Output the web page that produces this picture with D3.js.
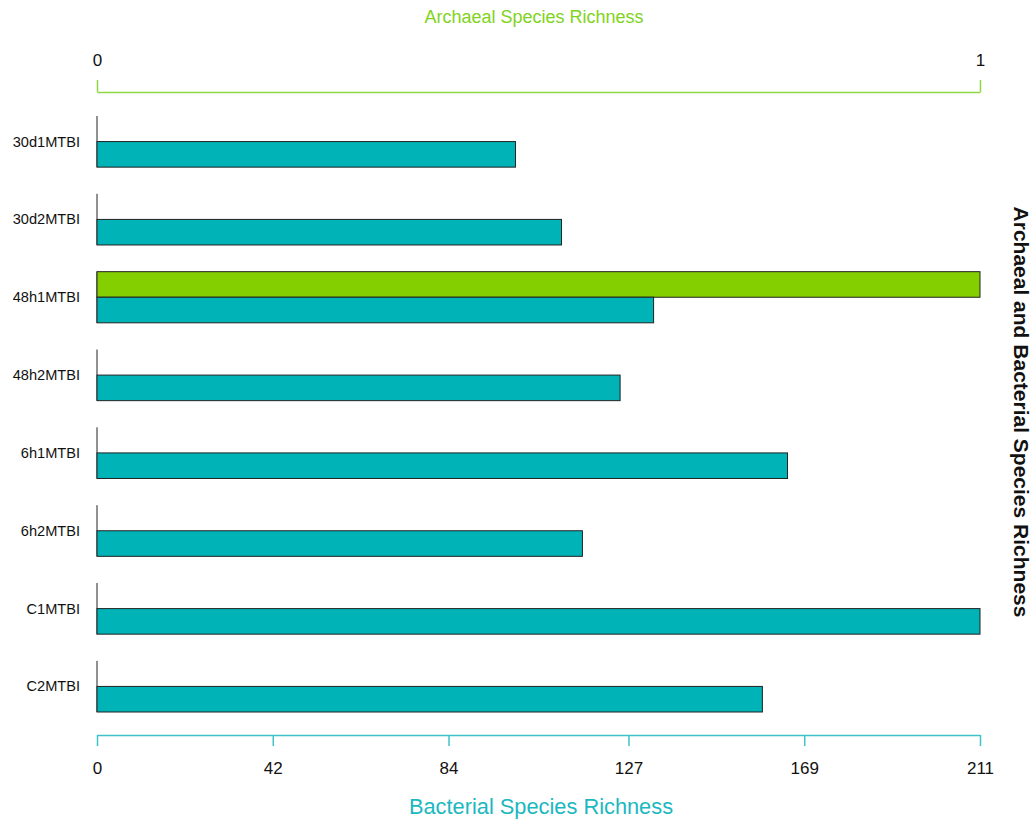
<!DOCTYPE html>
<html>
<head>
<meta charset="utf-8">
<script src="https://cdn.jsdelivr.net/npm/d3@7"></script>
<style>
  html, body { margin: 0; padding: 0; background: #fff; }
  svg { display: block; font-family: "Liberation Sans", Arial, sans-serif; }
</style>
</head>
<body>
<svg id="chart" width="1035" height="821"></svg>
<script>
// Samples, top to bottom
const categories = ["30d1MTBI", "30d2MTBI", "48h1MTBI", "48h2MTBI", "6h1MTBI", "6h2MTBI", "C1MTBI", "C2MTBI"];
// Species richness per sample
const bacterialValues = [100, 111, 133, 125, 165, 116, 211, 159];
const archaealValues = [0, 0, 1, 0, 0, 0, 0, 0];
// Axis ticks
const bacterialTicks = [0, 42, 84, 127, 169, 211];
const archaealTicks = [0, 1];

const teal = "#00b3b7";
const green = "#84cf00";
const tealAxis = "#3cc4ca";
const greenAxis = "#8fd640";

const svg = d3.select("#chart");
const left = 97, right = 980;

const xBac = d3.scaleLinear().domain([0, 211]).range([left, right]);
const xArc = d3.scaleLinear().domain([0, 1]).range([left, right]);
const y = d3.scaleBand().domain(categories).range([116, 712]).paddingInner(0.343).paddingOuter(0);
const half = y.bandwidth() / 2;

// Top (archaeal) axis
const topAxis = svg.append("g").attr("transform", "translate(0,92)")
  .call(d3.axisTop(xArc).tickValues(archaealTicks).tickFormat(d3.format("d")).tickSizeInner(12).tickSizeOuter(0).tickPadding(14));
topAxis.select(".domain").attr("stroke", greenAxis).attr("stroke-width", 1.5);
topAxis.selectAll(".tick line").attr("stroke", greenAxis).attr("stroke-width", 1.5);
topAxis.selectAll(".tick text").attr("fill", "#111").attr("font-size", 17);

// Bottom (bacterial) axis
const botAxis = svg.append("g").attr("transform", "translate(0,735)")
  .call(d3.axisBottom(xBac).tickValues(bacterialTicks).tickFormat(d3.format("d")).tickSizeInner(11).tickSizeOuter(0).tickPadding(16));
botAxis.select(".domain").attr("stroke", tealAxis).attr("stroke-width", 1.5);
botAxis.selectAll(".tick line").attr("stroke", tealAxis).attr("stroke-width", 1.5);
botAxis.selectAll(".tick text").attr("fill", "#111").attr("font-size", 17);

// Per-sample vertical baseline segments
svg.append("g").selectAll("line").data(categories).join("line")
  .attr("x1", left).attr("x2", left)
  .attr("y1", d => y(d)).attr("y2", d => y(d) + y.bandwidth())
  .attr("stroke", "#222").attr("stroke-width", 1);

// Archaeal bars (upper half of band)
svg.append("g").selectAll("rect").data(categories.map((c, i) => ({ c, v: archaealValues[i] })).filter(d => d.v > 0)).join("rect")
  .attr("x", xArc(0)).attr("y", d => y(d.c))
  .attr("width", d => xArc(d.v) - xArc(0)).attr("height", half)
  .attr("fill", green).attr("stroke", "#222").attr("stroke-width", 1);

// Bacterial bars (lower half of band)
svg.append("g").selectAll("rect").data(categories.map((c, i) => ({ c, v: bacterialValues[i] }))).join("rect")
  .attr("x", xBac(0)).attr("y", d => y(d.c) + half)
  .attr("width", d => xBac(d.v) - xBac(0)).attr("height", half)
  .attr("fill", teal).attr("stroke", "#222").attr("stroke-width", 1);

// Category labels
svg.append("g").selectAll("text").data(categories).join("text")
  .attr("x", 80).attr("y", d => y(d) + half)
  .attr("text-anchor", "end").attr("dominant-baseline", "central")
  .attr("font-size", 14.6).attr("fill", "#111")
  .text(d => d);

// Titles
svg.append("text").attr("x", 534).attr("y", 23)
  .attr("text-anchor", "middle").attr("font-size", 18).attr("fill", "#7fd321")
  .text("Archaeal Species Richness");
svg.append("text").attr("x", 541).attr("y", 814)
  .attr("text-anchor", "middle").attr("font-size", 21.8).attr("fill", "#1bb8c0")
  .text("Bacterial Species Richness");
svg.append("text")
  .attr("transform", `translate(1014,${412}) rotate(90)`)
  .attr("text-anchor", "middle").attr("font-size", 21).attr("font-weight", "bold").attr("fill", "#111")
  .text("Archaeal and Bacterial Species Richness");
</script>
</body>
</html>
